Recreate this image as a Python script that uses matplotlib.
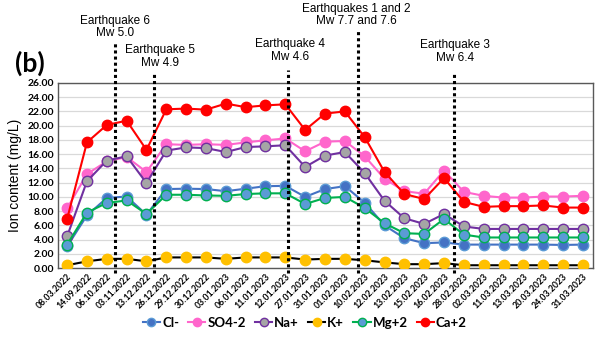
import matplotlib
matplotlib.use('Agg')
import matplotlib.pyplot as plt
import matplotlib.transforms as mtransforms
import numpy as np

dates = ['08.03.2022', '14.09.2022', '06.10.2022', '03.11.2022', '13.12.2022',
         '26.12.2022', '29.12.2022', '30.12.2022', '03.01.2023', '06.01.2023',
         '11.01.2023', '12.01.2023', '27.01.2023', '31.01.2023', '01.02.2023',
         '10.02.2023', '12.02.2023', '13.02.2023', '15.02.2023', '16.02.2023',
         '28.02.2023', '02.03.2023', '11.03.2023', '13.03.2023', '20.03.2023',
         '24.03.2023', '31.03.2023']

cl = [3.05, 7.4, 9.85, 10.05, 7.5, 11.1, 11.15, 11.1, 10.8, 11.15, 11.5, 11.55,
      10.0, 11.1, 11.5, 9.2, 6.0, 4.2, 3.5, 3.6, 3.3, 3.3, 3.3, 3.3, 3.3, 3.25, 3.3]
so4 = [8.4, 13.2, 15.0, 15.6, 13.5, 17.4, 17.3, 17.4, 17.3, 17.65, 17.95, 18.2,
       16.4, 17.75, 17.85, 15.7, 12.55, 10.8, 10.45, 13.7, 10.7, 10.15, 9.9, 9.9,
       10.05, 10.05, 10.15]
na = [4.45, 12.2, 15.1, 15.7, 11.95, 16.5, 16.95, 16.85, 16.3, 17.0, 17.1, 17.25,
      14.2, 15.8, 16.3, 13.35, 9.45, 7.0, 6.2, 7.6, 5.85, 5.5, 5.5, 5.5, 5.5, 5.5, 5.5]
k = [0.4, 0.95, 1.3, 1.3, 0.95, 1.5, 1.5, 1.5, 1.3, 1.5, 1.5, 1.5, 1.2, 1.3, 1.3,
     1.1, 0.8, 0.55, 0.55, 0.7, 0.4, 0.4, 0.4, 0.4, 0.4, 0.4, 0.4]
mg = [3.3, 7.8, 9.15, 9.5, 7.6, 10.3, 10.3, 10.2, 10.15, 10.4, 10.5, 10.5, 9.0,
      9.85, 10.0, 8.45, 6.3, 4.9, 4.8, 6.9, 4.7, 4.3, 4.3, 4.3, 4.3, 4.3, 4.3]
ca = [6.9, 17.66, 20.1, 20.7, 16.6, 22.3, 22.4, 22.25, 23.1, 22.6, 22.85, 23.0,
      19.4, 21.7, 22.0, 18.4, 13.5, 10.4, 9.7, 12.65, 9.3, 8.6, 8.7, 8.7, 8.8, 8.5, 8.5]

# earthquake markers: position (in index units), label
quake_x = [2.4, 4.37, 11.15, 14.65, 19.5]
quake_txt = ['Earthquake 6\nMw 5.0', 'Earthquake 5\nMw 4.9', 'Earthquake 4\nMw 4.6',
             'Earthquakes 1 and 2\nMw 7.7 and 7.6', 'Earthquake 3\nMw 6.4']

fig = plt.figure(figsize=(6, 3.5), dpi=100)
ax = fig.add_axes([0.097, 0.234, 0.891, 0.529])

x = np.arange(len(dates))
ms = 7.5
ax.plot(x, cl, '-o', color='#4472C4', mfc='#4472C4', mec='#5B9BD5', ms=ms, lw=1.5, label='Cl-', zorder=3)
ax.plot(x, so4, '-o', color='#FF66CC', mfc='#FF66CC', mec='#FF66CC', ms=ms, lw=1.5, label='SO4-2', zorder=3)
ax.plot(x, na, '-o', color='#7030A0', mfc='#A5A5A5', mec='#7030A0', ms=ms, lw=1.5, label='Na+', zorder=3)
ax.plot(x, k, '-o', color='black', mfc='#FFC000', mec='#FFC000', ms=ms, lw=1.5, label='K+', zorder=3)
ax.plot(x, mg, '-o', color='#00B050', mfc='#5B9BD5', mec='#00B050', ms=ms, lw=1.5, label='Mg+2', zorder=3)
ax.plot(x, ca, '-o', color='#FF0000', mfc='#FF0000', mec='#FF0000', ms=ms, lw=1.5, label='Ca+2', zorder=4)

ax.set_xlim(-0.45, 26.5)
ax.set_ylim(0, 26)
ax.set_yticks(np.arange(0, 27, 2))
ax.set_yticklabels(['%.2f' % v for v in np.arange(0, 27, 2)],
                   fontsize=7.5, fontweight='bold', family='Lato')
ax.set_xticks(x)
ax.set_xticklabels(dates, rotation=45, ha='right', rotation_mode='anchor',
                   fontsize=6.3, fontweight='bold', family='Lato')
ax.tick_params(length=0, pad=3)
ax.grid(axis='y', color='#D9D9D9', lw=0.9)
ax.set_axisbelow(True)
for s in ax.spines.values():
    s.set_color('#595959')
    s.set_linewidth(1.0)
ax.set_ylabel('Ion content (mg/L)', fontsize=10, family='Liberation Sans', labelpad=4)

trans = mtransforms.blended_transform_factory(ax.transData, ax.transAxes)
tops = [1.215, 1.056, 1.07, 1.28, 1.06]
text_x = [2.4, 4.7, 11.25, 14.57, 19.55]
text_y = [1.235, 1.074, 1.11, 1.30, 1.105]
for qx, top, tx, ty, t in zip(quake_x, tops, text_x, text_y, quake_txt):
    ax.plot([qx, qx], [-0.025, top], transform=trans, color='black', lw=2.2,
            ls=(0, (1, 1)), clip_on=False, zorder=5)
    ax.text(tx, ty, t, transform=trans, ha='center', va='bottom', fontsize=8.5,
            family='Liberation Sans', linespacing=1.1)

fig.text(0.025, 0.795, '(b)', fontsize=19, fontweight='bold', family='Lato')

leg = fig.legend(loc='center', bbox_to_anchor=(0.508, 0.078), ncol=6, frameon=False,
                 prop={'family': 'Lato', 'weight': 'bold', 'size': 9.5},
                 handlelength=1.3, handletextpad=0.15, columnspacing=0.7, markerscale=0.8)

fig.savefig('out.png', dpi=100)
